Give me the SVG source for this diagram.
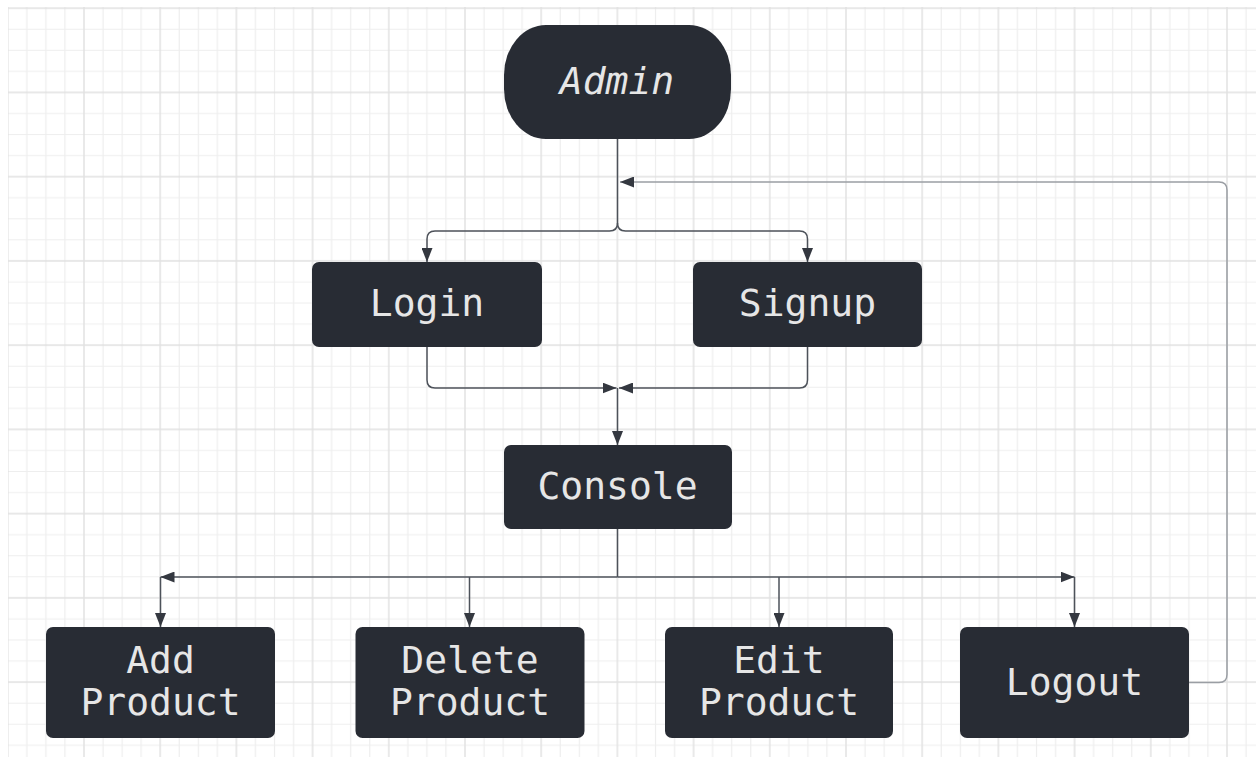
<svg xmlns="http://www.w3.org/2000/svg" width="1256" height="757" viewBox="0 0 1256 757">
  <style>
    .node { fill: #282c34; }
    .label { fill: #e6e6e6; font-family: "DejaVu Sans Mono", "Liberation Mono", monospace; font-size: 38px; text-anchor: middle; }
    .italic { font-style: italic; }
    .edge { fill: none; stroke: #4d525a; stroke-width: 1.5; }
    .edge-return { fill: none; stroke: #9a9ea4; stroke-width: 1.5; }
    .minor { stroke: #eeeeee; stroke-width: 1.2; }
    .major { stroke: #e0e0e0; stroke-width: 1.4; }
  </style>
  <defs>
    <pattern id="grid" x="6.8" y="7.2" width="76.2" height="84.24" patternUnits="userSpaceOnUse">
      <line class="minor" x1="20.05" y1="0" x2="20.05" y2="84.24"/>
      <line class="minor" x1="39.1" y1="0" x2="39.1" y2="84.24"/>
      <line class="minor" x1="58.15" y1="0" x2="58.15" y2="84.24"/>
      <line class="minor" x1="0" y1="22.06" x2="76.2" y2="22.06"/>
      <line class="minor" x1="0" y1="43.12" x2="76.2" y2="43.12"/>
      <line class="minor" x1="0" y1="64.18" x2="76.2" y2="64.18"/>
      <line class="major" x1="1" y1="0" x2="1" y2="84.24"/>
      <line class="major" x1="0" y1="1" x2="76.2" y2="1"/>
    </pattern>
    <marker id="arrow" viewBox="0 0 14 11" refX="14" refY="5.5" markerWidth="14" markerHeight="11" markerUnits="userSpaceOnUse" orient="auto">
      <path d="M0,0 L14,5.5 L0,11 Z" fill="#343840"/>
    </marker>
  </defs>

  <!-- canvas -->
  <rect x="0" y="0" width="1256" height="757" fill="#ffffff"/>
  <rect x="8" y="7" width="1248" height="750" fill="url(#grid)"/>

  <!-- connectors -->
  <g id="connectors">
    <!-- Admin splits to Login and Signup -->
    <path class="edge" d="M617.5,139 V223 Q617.5,231 609.5,231 H435 Q427,231 427,239 V262" marker-end="url(#arrow)"/>
    <path class="edge" d="M617.5,223 Q617.5,231 625.5,231 H799.5 Q807.5,231 807.5,239 V262" marker-end="url(#arrow)"/>
    <!-- Login and Signup merge into Console -->
    <path class="edge" d="M427,347 V380 Q427,388 435,388 H616.5" marker-end="url(#arrow)"/>
    <path class="edge" d="M807.5,347 V380 Q807.5,388 799.5,388 H619" marker-end="url(#arrow)"/>
    <path class="edge" d="M617.5,388 V445" marker-end="url(#arrow)"/>
    <!-- Console fans out to the actions -->
    <path class="edge" d="M617.5,529 V577"/>
    <path class="edge" d="M617.5,577 H160.5" marker-end="url(#arrow)"/>
    <path class="edge" d="M617.5,577 H1074.5" marker-end="url(#arrow)"/>
    <path class="edge" d="M160.5,577 V627" marker-end="url(#arrow)"/>
    <path class="edge" d="M469.5,577 V627" marker-end="url(#arrow)"/>
    <path class="edge" d="M779,577 V627" marker-end="url(#arrow)"/>
    <path class="edge" d="M1074.5,577 V627" marker-end="url(#arrow)"/>
    <!-- Logout returns to Admin -->
    <path class="edge-return" d="M1189,682.5 H1219 Q1227,682.5 1227,674.5 V190 Q1227,182 1219,182 H620" marker-end="url(#arrow)"/>
  </g>

  <g id="node-admin">
    <rect class="node" x="504" y="25" width="227" height="114" rx="42" ry="50"/>
    <text class="label italic" x="617" y="94">Admin</text>
  </g>
  <g id="node-login">
    <rect class="node" x="312" y="262" width="230" height="85" rx="7"/>
    <text class="label" x="427" y="316">Login</text>
  </g>
  <g id="node-signup">
    <rect class="node" x="693" y="262" width="229" height="85" rx="7"/>
    <text class="label" x="807.5" y="316">Signup</text>
  </g>
  <g id="node-console">
    <rect class="node" x="504" y="445" width="228" height="84" rx="7"/>
    <text class="label" x="617.5" y="499">Console</text>
  </g>
  <g id="node-add-product">
    <rect class="node" x="46" y="627" width="229" height="111" rx="7"/>
    <text class="label" x="160.5" y="673">Add</text>
    <text class="label" x="160.5" y="715">Product</text>
  </g>
  <g id="node-delete-product">
    <rect class="node" x="355.5" y="627" width="229" height="111" rx="7"/>
    <text class="label" x="470" y="673">Delete</text>
    <text class="label" x="470" y="715">Product</text>
  </g>
  <g id="node-edit-product">
    <rect class="node" x="665" y="627" width="228" height="111" rx="7"/>
    <text class="label" x="779" y="673">Edit</text>
    <text class="label" x="779" y="715">Product</text>
  </g>
  <g id="node-logout">
    <rect class="node" x="960" y="627" width="229" height="111" rx="7"/>
    <text class="label" x="1074.5" y="695">Logout</text>
  </g>
</svg>
